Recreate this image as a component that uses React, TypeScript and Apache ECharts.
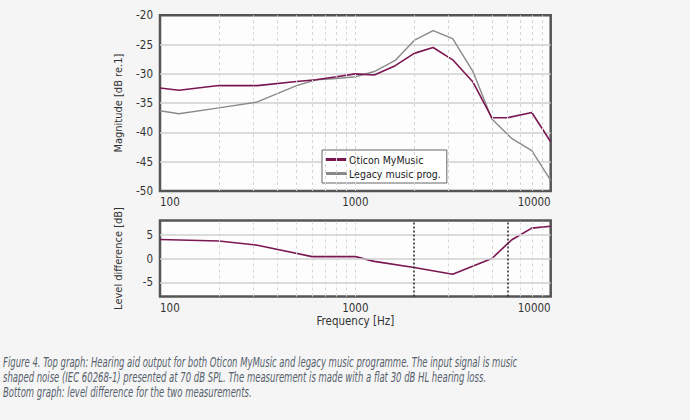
import React, { useEffect, useRef } from "react";
import * as echarts from "echarts";

// ---- data ----
const oticonFreq = [100, 125, 200, 315, 500, 630, 800, 1000, 1250, 1600, 2000, 2500, 3150, 4000, 5000, 6000, 8000, 10000];
const oticonDb = [-32.4, -32.8, -32.0, -32.0, -31.3, -31.0, -30.5, -30.0, -30.2, -28.6, -26.5, -25.5, -27.6, -31.4, -37.5, -37.5, -36.6, -41.6];

const legacyFreq = [100, 125, 200, 315, 500, 630, 800, 1000, 1250, 1600, 2000, 2500, 3150, 4000, 5000, 6300, 8000, 10000];
const legacyDb = [-36.3, -36.8, -35.8, -34.8, -32.0, -31.0, -30.8, -30.5, -29.6, -27.7, -24.3, -22.6, -24.0, -29.6, -37.7, -41.0, -43.1, -48.2];

const diffFreq = [100, 200, 315, 600, 1000, 1250, 2000, 3150, 5000, 6300, 8000, 10000];
const diffDb = [4.0, 3.7, 2.8, 0.4, 0.4, -0.6, -1.9, -3.3, 0.0, 3.9, 6.4, 6.8];

const gridFreqs = [200, 300, 400, 500, 600, 700, 800, 900, 1000, 2000, 3000, 4000, 5000, 6000, 7000, 8000, 9000];
const markerFreqs = [2000, 6000];
const diffTicks = [-5, 0, 5];

const seriesNames = ["Oticon MyMusic", "Legacy music prog."];
const captionLines = [
  "Figure 4. Top graph: Hearing aid output for both Oticon MyMusic and legacy music programme. The input signal is music",
  "shaped noise (IEC 60268-1) presented at 70 dB SPL. The measurement is made with a flat 30 dB HL hearing loss.",
  "Bottom graph: level difference for the two measurements.",
];

const FONT = '"Liberation Sans Narrow", "DejaVu Sans Condensed", "Liberation Sans", sans-serif';
const PURPLE = "#7a1652";
const GRAY = "#8a8a8a";

const pairs = (xs: number[], ys: number[]) => xs.map((x, i) => [x, ys[i]]);

export default function App() {
  const ref = useRef<HTMLDivElement>(null);
  useEffect(() => {
    if (!ref.current) return;
    const chart = echarts.init(ref.current, null, { renderer: "svg" });
    const labelStyle = { fontFamily: FONT, fontSize: 11.5, color: "#333" };
    const xAxisBase = {
      type: "log",
      logBase: 10,
      min: 100,
      max: 10000,
      axisLine: { show: false },
      axisTick: { show: false },
      splitLine: { show: false },
      axisLabel: {
        ...labelStyle,
        margin: 5,
        alignMinLabel: "left",
        alignMaxLabel: "right",
        formatter: (v: number) => String(Math.round(v)),
      },
    };
    const vGrid = (color: string) => ({
      silent: true,
      symbol: ["none", "none"],
      label: { show: false },
      emphasis: { disabled: true },
      lineStyle: { color, type: [3, 3], width: 1 },
      data: gridFreqs.map((f) => ({ xAxis: f })),
    });
    const option: any = {
      animation: false,
      backgroundColor: "#f5f5f5",
      grid: [
        { left: 160, top: 15.3, width: 390.7, height: 175.7, show: true, borderColor: "#555", borderWidth: 2.5, backgroundColor: "#fdfdfd" },
        { left: 160, top: 220.5, width: 390.7, height: 76, show: true, borderColor: "#555", borderWidth: 2.5, backgroundColor: "#fdfdfd" },
      ],
      xAxis: [
        { ...xAxisBase, gridIndex: 0 },
        {
          ...xAxisBase,
          gridIndex: 1,
          name: "Frequency [Hz]",
          nameLocation: "middle",
          nameGap: 18,
          nameTextStyle: { fontFamily: FONT, fontSize: 11.5, color: "#333" },
        },
      ],
      yAxis: [
        {
          type: "value",
          gridIndex: 0,
          min: -50,
          max: -20,
          interval: 5,
          name: "Magnitude [dB re.1]",
          nameLocation: "middle",
          nameGap: 36,
          nameTextStyle: { fontFamily: FONT, fontSize: 11, color: "#333" },
          axisLine: { show: false },
          axisTick: { show: false },
          axisLabel: { ...labelStyle, margin: 7 },
          splitLine: { show: true, showMinLine: false, showMaxLine: false, lineStyle: { color: "#cfcfcf", width: 1.5 } },
        },
        {
          type: "value",
          gridIndex: 1,
          min: -8,
          max: 8,
          name: "Level difference [dB]",
          nameLocation: "middle",
          nameGap: 36,
          nameTextStyle: { fontFamily: FONT, fontSize: 11, color: "#333" },
          axisLine: { show: false },
          axisTick: { show: false },
          axisLabel: { ...labelStyle, margin: 7, customValues: diffTicks },
          splitLine: { show: false },
        },
      ],
      legend: {
        orient: "vertical",
        left: 322,
        top: 150,
        data: seriesNames,
        selectedMode: false,
        backgroundColor: "#fff",
        borderColor: "#666",
        borderWidth: 1,
        borderRadius: 0,
        padding: [3, 6, 3, 4],
        itemWidth: 21,
        itemHeight: 3,
        itemGap: 1,
        icon: "rect",
        textStyle: { fontFamily: FONT, fontSize: 10.5, color: "#222", lineHeight: 13, padding: [0, 0, 0, -3] },
      },
      series: [
        {
          type: "line",
          xAxisIndex: 0,
          yAxisIndex: 0,
          data: [],
          z: 1,
          silent: true,
          markLine: vGrid("#d6d6d6"),
        },
        {
          type: "line",
          xAxisIndex: 1,
          yAxisIndex: 1,
          data: [],
          z: 1,
          silent: true,
          markLine: {
            ...vGrid("#d6d6d6"),
            data: [
              ...gridFreqs.filter((f) => !markerFreqs.includes(f)).map((f) => ({ xAxis: f })),
              ...diffTicks.map((v) => ({ yAxis: v, lineStyle: { type: "solid", color: "#cfcfcf", width: 1.5 } })),
              ...markerFreqs.map((f) => ({ xAxis: f, lineStyle: { type: [2, 2], color: "#333", width: 1.6 } })),
            ],
          },
        },
        {
          name: seriesNames[1],
          type: "line",
          xAxisIndex: 0,
          yAxisIndex: 0,
          data: pairs(legacyFreq, legacyDb),
          symbol: "none",
          z: 3,
          color: GRAY,
          lineStyle: { color: GRAY, width: 1.4 },
        },
        {
          name: seriesNames[0],
          type: "line",
          xAxisIndex: 0,
          yAxisIndex: 0,
          data: pairs(oticonFreq, oticonDb),
          symbol: "none",
          z: 4,
          color: PURPLE,
          lineStyle: { color: PURPLE, width: 1.6 },
        },
        {
          name: "Level difference",
          type: "line",
          xAxisIndex: 1,
          yAxisIndex: 1,
          data: pairs(diffFreq, diffDb),
          symbol: "none",
          z: 4,
          color: PURPLE,
          lineStyle: { color: PURPLE, width: 1.6 },
        },
      ],
      graphic: captionLines.map((t, i) => ({
        type: "text",
        x: 3,
        y: 362 + i * 15,
        scaleX: 0.70,
        silent: true,
        style: {
          text: t,
          font: `italic 13.5px ${FONT}`,
          fill: "#56616c",
          textVerticalAlign: "middle",
        },
      })),
    };
    chart.setOption(option);
    return () => chart.dispose();
  }, []);
  return <div ref={ref} style={{ position: "fixed", left: 0, top: 0, width: 690, height: 420 }} />;
}
